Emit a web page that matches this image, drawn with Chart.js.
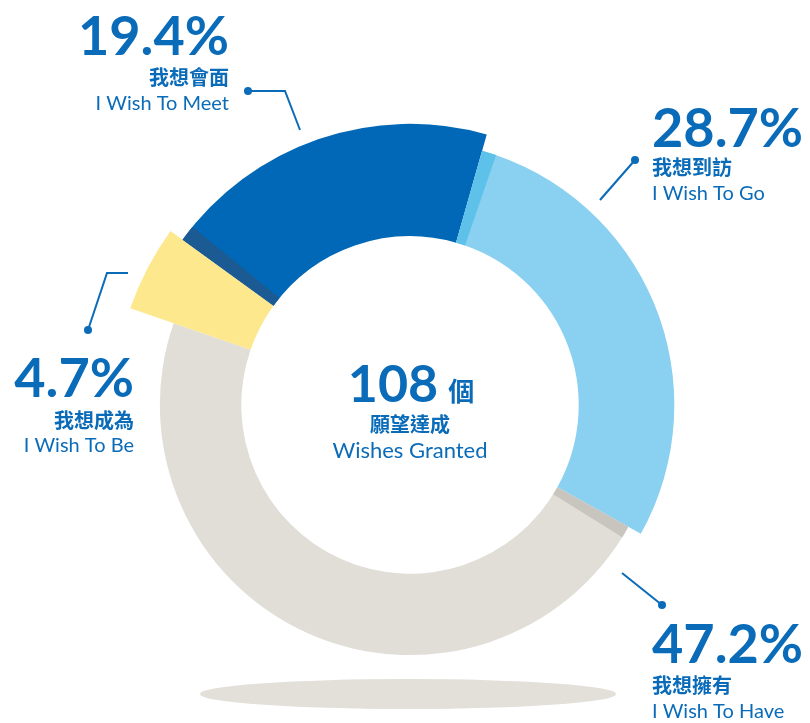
<!DOCTYPE html>
<html>
<head>
<meta charset="utf-8">
<script src="https://cdn.jsdelivr.net/npm/chart.js"></script>
<style>
  html, body { margin: 0; padding: 0; background: #ffffff; }
  #wrap { position: relative; width: 810px; height: 723px; }
</style>
</head>
<body>
<div id="wrap"><canvas id="Chart"></canvas></div>
<script>
// 数据
const categoriesZh = ['我想會面', '我想到訪', '我想擁有', '我想成為'];
const categoriesEn = ['I Wish To Meet', 'I Wish To Go', 'I Wish To Have', 'I Wish To Be'];
const shares = [19.4, 28.7, 47.2, 4.7];
const totalWishes = 108;
const centerZh = '願望達成';
const centerEn = 'Wishes Granted';
const unitZh = '個';

// 样式
const colors = ['#0068b6', '#89d0f1', '#e1ddd7', '#fde88e'];
const radiusFactor = [0.95, 0.893, 0.845, 1.0];
const sideFaces = [
    { index: 0, color: '#1c5a94', width: 13 },
    { index: 1, color: '#5ec1ea', width: 12 },
    { index: 2, color: '#c8c4be', width: 10 }
];
const textBlue = '#0a6bb9';
const labelLayout = [
    { x: 229, align: 'right', pctY: 55, zhY: 85, enY: 110, line: [[248, 91], [285, 91], [300, 130]], dot: 0 },
    { x: 652, align: 'left', pctY: 147, zhY: 175, enY: 200, line: [[635, 160], [600, 200]], dot: 0 },
    { x: 652, align: 'left', pctY: 663, zhY: 693, enY: 718, line: [[622, 573], [662, 605]], dot: 1 },
    { x: 134, align: 'right', pctY: 397, zhY: 428, enY: 452, line: [[128, 273], [107, 273], [88, 330]], dot: 2 }
];

const ringPlugin = {
    id: 'ring',
    beforeDatasetsDraw(chart) {
        const meta = chart.getDatasetMeta(0);
        const base = meta.controller.outerRadius;
        const ctx = chart.ctx;
        // 底部阴影
        const c = meta.data[0];
        ctx.save();
        ctx.fillStyle = '#e3dfd9';
        ctx.beginPath();
        ctx.ellipse(c.x - 2, c.y + 289, 208, 15, 0, 0, Math.PI * 2);
        ctx.fill();
        ctx.restore();
        meta.data.forEach((arc, i) => {
            arc.outerRadius = base * radiusFactor[i];
        });
    },
    afterDatasetsDraw(chart) {
        const ctx = chart.ctx;
        const meta = chart.getDatasetMeta(0);
        ctx.save();
        sideFaces.forEach(f => {
            const arc = meta.data[f.index];
            const a0 = arc.startAngle;
            const a1 = a0 + f.width / ((arc.innerRadius + arc.outerRadius) / 2);
            ctx.beginPath();
            ctx.arc(arc.x, arc.y, arc.outerRadius, a0, a1);
            ctx.arc(arc.x, arc.y, arc.innerRadius, a1, a0, true);
            ctx.closePath();
            ctx.fillStyle = f.color;
            ctx.fill();
        });
        ctx.restore();
    },
    afterDraw(chart) {
        const ctx = chart.ctx;
        const meta = chart.getDatasetMeta(0);
        const cx = meta.data[0].x;
        ctx.save();
        ctx.fillStyle = textBlue;
        ctx.strokeStyle = textBlue;
        ctx.textBaseline = 'alphabetic';

        // 外圈标注
        labelLayout.forEach((l, i) => {
            ctx.textAlign = l.align;
            ctx.font = 'bold 54px Lato';
            ctx.fillText(shares[i].toFixed(1) + '%', l.x, l.pctY);
            ctx.font = 'bold 20px "Noto Sans CJK TC"';
            ctx.fillText(categoriesZh[i], l.x, l.zhY);
            ctx.font = '20px Lato';
            ctx.fillText(categoriesEn[i], l.x, l.enY);

            ctx.lineWidth = 2;
            ctx.beginPath();
            l.line.forEach((p, k) => {
                if (k === 0) ctx.moveTo(p[0], p[1]);
                else ctx.lineTo(p[0], p[1]);
            });
            ctx.stroke();
            const d = l.line[l.dot];
            ctx.beginPath();
            ctx.arc(d[0], d[1], 4, 0, Math.PI * 2);
            ctx.fill();
        });

        // 中心文字
        ctx.textAlign = 'left';
        ctx.font = 'bold 52px Lato';
        const numText = String(totalWishes);
        const w1 = ctx.measureText(numText).width;
        ctx.font = 'bold 26px "Noto Sans CJK TC"';
        const w2 = ctx.measureText(unitZh).width;
        const gap = 10;
        const left = cx + 1 - (w1 + gap + w2) / 2;
        ctx.font = 'bold 52px Lato';
        ctx.fillText(numText, left, 402);
        ctx.font = 'bold 26px "Noto Sans CJK TC"';
        ctx.fillText(unitZh, left + w1 + gap, 401);
        ctx.textAlign = 'center';
        ctx.font = 'bold 20px "Noto Sans CJK TC"';
        ctx.fillText(centerZh, cx, 432);
        ctx.font = '22px Lato';
        ctx.fillText(centerEn, cx, 458);
        ctx.restore();
    }
};

const ctx = document.getElementById('Chart');
const chart = new Chart(ctx, {
    type: 'doughnut',
    data: {
        labels: categoriesEn,
        datasets: [{
            data: shares,
            backgroundColor: colors,
            borderWidth: 0,
            hoverOffset: 0
        }]
    },
    options: {
        responsive: true,
        maintainAspectRatio: false,
        animation: false,
        cutout: '57%',
        rotation: -54,
        layout: {
            padding: { left: 114, right: 104, top: 109, bottom: 22 }
        },
        plugins: {
            legend: { display: false },
            tooltip: { enabled: false }
        },
        events: []
    },
    plugins: [ringPlugin]
});
</script>
</body>
</html>
